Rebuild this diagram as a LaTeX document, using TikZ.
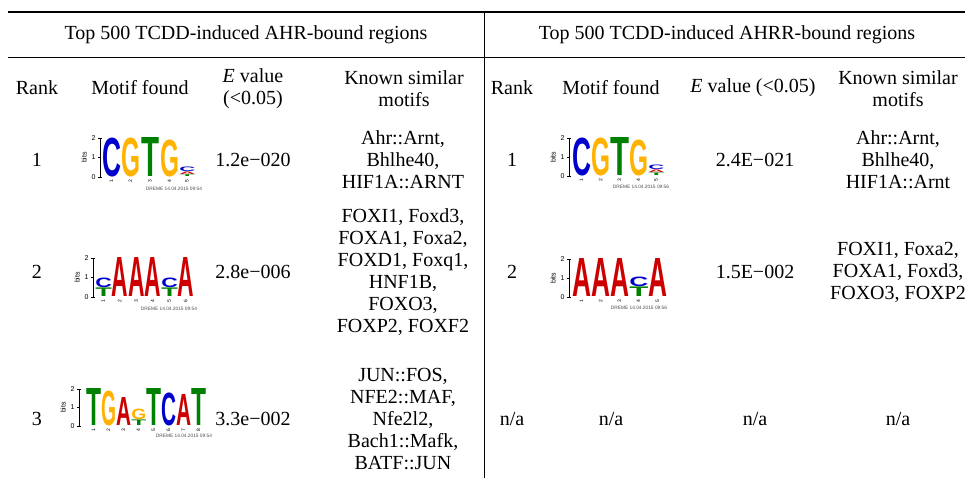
\documentclass[tikz,border=0pt]{standalone}
\usepackage{fontspec}
\setmainfont{Liberation Serif}
\newfontfamily\logofont{Liberation Sans}
\usepackage{graphicx}
\usepackage{xcolor}

% nucleotide colours
\definecolor{mA}{RGB}{204,0,0}
\definecolor{mC}{RGB}{0,0,204}
\definecolor{mG}{RGB}{255,179,0}
\definecolor{mT}{RGB}{0,128,0}

\newlength{\px}
\setlength{\px}{0.5pt}
\newcommand{\cellfont}{\fontsize{10}{11}\selectfont}

% axis of a sequence logo: name, x, y of 2 bits, y of 0 bits
\newcommand{\logoaxis}[4]{%
  \draw[axisline] (#2+2,#3) -- (#2,#3) -- (#2,#4) -- (#2+2,#4);
  \draw[axisline] (#2-2,#3) -- (#2,#3) (#2-2,{(#3+#4)/2}) -- (#2,{(#3+#4)/2})
                  (#2-2,#4) -- (#2,#4);
  \node[ticklab] (#1-two) at (#2-4,#3) {2};
  \node[ticklab] (#1-one) at (#2-4,{(#3+#4)/2}) {1};
  \node[ticklab] (#1-zero) at (#2-4,#4) {0};
  \node[bitslab] (#1-bits) at (#2-16,{(#3+#4)/2}) {bits};
}

\begin{document}
\begin{tikzpicture}[
    x=0.5pt, y=-0.5pt,
    cell/.style={align=center, font=\cellfont, inner sep=0pt},
    letter/.style={anchor=south west, inner sep=0pt, font=\logofont\bfseries},
    ticklab/.style={anchor=east, inner sep=0pt, font=\fontsize{3.5}{4}\selectfont\logofont},
    bitslab/.style={rotate=90, inner sep=0pt, font=\fontsize{3.5}{4}\selectfont\logofont},
    poslab/.style={anchor=east, rotate=90, inner sep=0pt, font=\fontsize{2.5}{3}\selectfont\logofont},
    dreme/.style={inner sep=0pt, text=black!70, font=\fontsize{2.4}{3}\selectfont\logofont},
    axisline/.style={line width=0.3pt},
    toprule/.style={line width=1pt},
    midrule/.style={line width=0.5pt}
]
\useasboundingbox (0,0) rectangle (965,478);

% Rules
\draw[toprule] (8,12) -- (965,12);
\draw[midrule] (8,57) -- (965,57);
\draw[midrule] (484,12) -- (484,478);

% Headers
\node[cell] (ahrhead) at (246,35) {Top 500 TCDD-induced AHR-bound regions};
\node[cell] (ahrrhead) at (727,35) {Top 500 TCDD-induced AHRR-bound regions};

\node[cell] (ahrrank) at (37,88) {Rank};
\node[cell] (ahrmotif) at (140,88) {Motif found};
\node[cell] (ahreval) at (253,89) {\textit{E} value\\(<0.05)};
\node[cell] (ahrknown) at (404,89) {Known similar\\motifs};

\node[cell] (ahrrrank) at (512,88) {Rank};
\node[cell] (ahrrmotif) at (611,88) {Motif found};
\node[cell] (ahrreval) at (753,88) {\textit{E} value (<0.05)};
\node[cell] (ahrrknown) at (898,89) {Known similar\\motifs};

% AHR rows
\node[cell] (ahrr1) at (37,160) {1};
\node[cell] (ahre1) at (253,160) {1.2e−020};
\node[cell] (ahrk1) at (403,160) {Ahr::Arnt,\\Bhlhe40,\\HIF1A::ARNT};

\node[cell] (ahrr2) at (37,272) {2};
\node[cell] (ahre2) at (253,272) {2.8e−006};
\node[cell] (ahrk2) at (403,272) {FOXI1, Foxd3,\\FOXA1, Foxa2,\\FOXD1, Foxq1,\\HNF1B,\\FOXO3,\\FOXP2, FOXF2};

\node[cell] (ahrr3) at (37,419) {3};
\node[cell] (ahre3) at (253,419) {3.3e−002};
\node[cell] (ahrk3) at (403,419) {JUN::FOS,\\NFE2::MAF,\\Nfe2l2,\\Bach1::Mafk,\\BATF::JUN};

% AHRR rows
\node[cell] (ahrrr1) at (512,160) {1};
\node[cell] (ahrre1) at (755,160) {2.4E−021};
\node[cell] (ahrrk1) at (898,160) {Ahr::Arnt,\\Bhlhe40,\\HIF1A::Arnt};

\node[cell] (ahrrr2) at (512,272) {2};
\node[cell] (ahrre2) at (755,272) {1.5E−002};
\node[cell] (ahrrk2) at (898,272) {FOXI1, Foxa2,\\FOXA1, Foxd3,\\FOXO3, FOXP2};

\node[cell] (ahrrr3) at (512,419) {n/a};
\node[cell] (ahrrm3) at (611,419) {n/a};
\node[cell] (ahrre3) at (755,419) {n/a};
\node[cell] (ahrrk3) at (898,419) {n/a};

% Logo: CGTG
\logoaxis{ahrlogo1}{100}{138}{177}
\foreach \i/\x/\b/\w/\h/\c/\l in {1/102/177/19/39/mC/C, 2/121/177/19/39/mG/G,
    3/141/177/18/39/mT/T, 4/160/177/19/37/mG/G, 5a/179/177/16/1.8/mT/T,
    5b/179/175/16/2.6/mA/A, 5c/179/172/16/4.6/mC/C}
  \node[letter, text=\c] (ahrlogo1-\i) at (\x,\b) {\resizebox*{\w\px}{\h\px}{\l}};
\foreach \n/\x in {1/111.5, 2/130.5, 3/150, 4/169.5, 5/187}
  \node[poslab] (ahrlogo1-p\n) at (\x,179) {\n};
\node[dreme] (ahrlogo1-date) at (174,189) {DREME 14.04.2015 09:54};

% Logo: CAAACA
\logoaxis{ahrlogo2}{93}{258}{297}
\foreach \i/\x/\b/\w/\h/\c/\l in {1a/95/297/16.5/8.6/mT/T, 1b/95/288/16.5/9.6/mC/C,
    2/111.5/297/16.5/39/mA/A, 3/128/297/16.5/39/mA/A, 4/144.5/297/16.5/39/mA/A,
    5a/161/297/16.5/8.6/mT/T, 5b/161/288/16.5/9.6/mC/C, 6/177.5/297/16.5/39/mA/A}
  \node[letter, text=\c] (ahrlogo2-\i) at (\x,\b) {\resizebox*{\w\px}{\h\px}{\l}};
\foreach \n/\x in {1/103.25, 2/119.75, 3/136.25, 4/152.75, 5/169.25, 6/185.75}
  \node[poslab] (ahrlogo2-p\n) at (\x,299) {\n};
\node[dreme] (ahrlogo2-date) at (169,309) {DREME 14.04.2015 09:54};

% Logo: TGAGTCAT
\logoaxis{ahrlogo3}{79}{389}{426}
\foreach \i/\x/\b/\w/\h/\c/\l in {1/86/426/15/37/mT/T, 2/101/426/15/35/mG/G,
    3/116/426/15/28/mA/A, 4a/131/426/15/5.6/mT/T, 4b/131/420/15/10.6/mG/G,
    5/146/426/15/37/mT/T, 6/161/426/15/33/mC/C, 7/176/426/15/31/mA/A,
    8/191/426/15/37/mT/T}
  \node[letter, text=\c] (ahrlogo3-\i) at (\x,\b) {\resizebox*{\w\px}{\h\px}{\l}};
\foreach \n/\x in {1/93.5, 2/108.5, 3/123.5, 4/138.5, 5/153.5, 6/168.5, 7/183.5, 8/198.5}
  \node[poslab] (ahrlogo3-p\n) at (\x,428) {\n};
\node[dreme] (ahrlogo3-date) at (184,436) {DREME 14.04.2015 09:54};

% Logo: CGTG (AHRR)
\logoaxis{ahrrlogo1}{569}{138}{176}
\foreach \i/\x/\b/\w/\h/\c/\l in {1/572/176/19/38/mC/C, 2/591/176/19/38/mG/G,
    3/610/176/19/38/mT/T, 4/629/176/19/36/mG/G, 5a/648/176/16/2.6/mT/T,
    5b/648/173/16/2.6/mA/A, 5c/648/170/16/4.6/mC/C}
  \node[letter, text=\c] (ahrrlogo1-\i) at (\x,\b) {\resizebox*{\w\px}{\h\px}{\l}};
\foreach \n/\x in {1/581.5, 2/600.5, 3/619.5, 4/638.5, 5/656}
  \node[poslab] (ahrrlogo1-p\n) at (\x,178) {\n};
\node[dreme] (ahrrlogo1-date) at (641,187) {DREME 14.04.2015 09:56};

% Logo: AAACA (AHRR)
\logoaxis{ahrrlogo2}{569}{259}{297}
\foreach \i/\x/\b/\w/\h/\c/\l in {1/572/297/19/38/mA/A, 2/591/297/19/38/mA/A,
    3/610/297/19/38/mA/A, 4a/629/297/19/9.6/mT/T, 4b/629/287/19/9.6/mC/C,
    5/648/297/19/38/mA/A}
  \node[letter, text=\c] (ahrrlogo2-\i) at (\x,\b) {\resizebox*{\w\px}{\h\px}{\l}};
\foreach \n/\x in {1/581.5, 2/600.5, 3/619.5, 4/638.5, 5/657.5}
  \node[poslab] (ahrrlogo2-p\n) at (\x,299) {\n};
\node[dreme] (ahrrlogo2-date) at (639,308) {DREME 14.04.2015 09:56};

\end{tikzpicture}
\end{document}
